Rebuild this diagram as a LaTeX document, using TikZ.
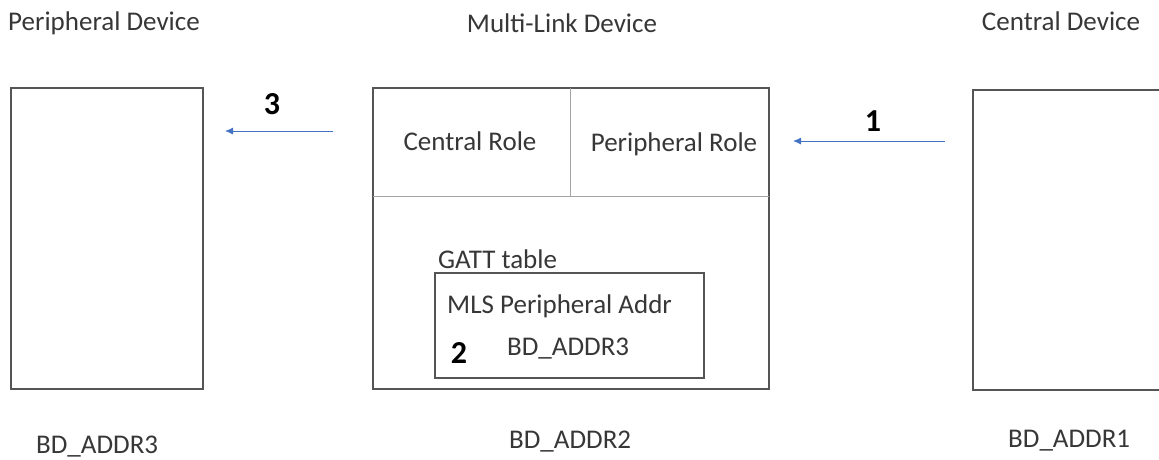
\documentclass[tikz,border=0pt]{standalone}
\usepackage{fontspec}
\setmainfont{Carlito}
\usetikzlibrary{arrows.meta}
\definecolor{edge}{RGB}{85,85,85}
\definecolor{divider}{RGB}{165,165,165}
\definecolor{ink}{RGB}{55,55,55}
\definecolor{flow}{RGB}{68,114,196}
\tikzset{
  box/.style={draw=edge, line width=1.5pt, rectangle, inner sep=0pt},
  txt/.style={inner sep=0pt, text=ink, font=\fontsize{27}{32}\selectfont},
  stepnum/.style={inner sep=0pt, text=black, font=\fontsize{32}{38}\selectfont\bfseries},
  msg/.style={draw=flow, line width=0.9pt, -{Latex[length=8pt,width=7pt]}},
  sep/.style={draw=divider, line width=1pt}
}
\begin{document}
\begin{tikzpicture}[x=1pt,y=-1pt]
\useasboundingbox (0,0) rectangle (1159,459);
\fill[white] (0,0) rectangle (1159,459);

% device boxes
\node[box, minimum width=192pt, minimum height=301pt] (periph) at (107,238.5) {};
\node[box, minimum width=396pt, minimum height=301pt] (mld) at (571,238.5) {};
\node[box, minimum width=200pt, minimum height=300pt] (central) at (1073,240) {};

% role split and GATT table inside the multi-link device
\coordinate (divL) at (373,196);
\coordinate (divR) at (769,196);
\coordinate (vTop) at (570,88);
\coordinate (vBot) at (570,196);
\draw[sep] (divL) -- (divR);
\draw[sep] (vTop) -- (vBot);
\node[box, line width=1.3pt, minimum width=269pt, minimum height=105pt] (gatt) at (569.5,325.5) {};

% titles
\node[txt, anchor=base] (tPeriph) at (104,30) {Peripheral Device};
\node[txt, anchor=base] (tMld) at (562,32) {Multi-Link Device};
\node[txt, anchor=base] (tCentral) at (1061,30) {Central Device};

% roles
\node[txt, anchor=base] (rCentral) at (470,150) {Central Role};
\node[txt, anchor=base] (rPeriph) at (674,151) {Peripheral Role};

% GATT table contents
\node[txt, anchor=base west] (gattLbl) at (438,268) {GATT table};
\node[txt, anchor=base west] (mlsLbl) at (447,313) {MLS Peripheral Addr};
\node[txt, anchor=base west] (mlsVal) at (507,355) {BD\_ADDR3};
\node[stepnum, anchor=base] (s2) at (459,363) {2};

% addresses
\node[txt, anchor=base west] (aPeriph) at (36,453) {BD\_ADDR3};
\node[txt, anchor=base west] (aMld) at (509,448) {BD\_ADDR2};
\node[txt, anchor=base west] (aCentral) at (1008,447) {BD\_ADDR1};

% messages
\coordinate (m1s) at (945,141);
\coordinate (m1e) at (793,141);
\coordinate (m3s) at (333,131);
\coordinate (m3e) at (225,131);
\draw[msg] (m1s) -- (m1e);
\draw[msg] (m3s) -- (m3e);
\node[stepnum, anchor=base] (s1) at (873,131) {1};
\node[stepnum, anchor=base] (s3) at (272,114) {3};
\end{tikzpicture}
\end{document}
